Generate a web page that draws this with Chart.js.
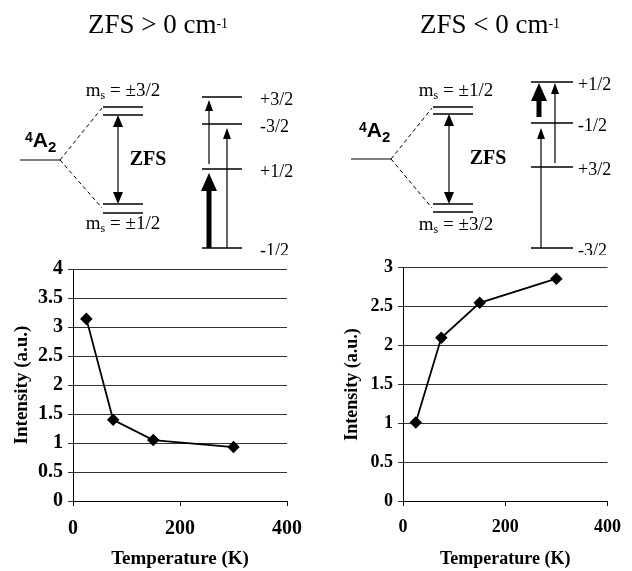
<!DOCTYPE html>
<html>
<head>
<meta charset="utf-8">
<script src="https://cdn.jsdelivr.net/npm/chart.js@4.4.0/dist/chart.umd.min.js"></script>
<style>
  body { margin: 0; background: #fff; }
  #fig { position: relative; width: 632px; height: 571px; }
  #fig canvas { position: absolute; }
</style>
</head>
<body>
<div id="fig">
  <canvas id="diagPos" width="316" height="255" style="left:0;top:0"></canvas>
  <canvas id="diagNeg" width="316" height="255" style="left:316px;top:0"></canvas>
  <canvas id="plotPos" width="316" height="319" style="left:0;top:252px"></canvas>
  <canvas id="plotNeg" width="316" height="319" style="left:316px;top:252px"></canvas>
</div>
<script>
// ---- intensity vs temperature ----
const temperatureK = [25, 75, 150, 300];
const intensityZfsPos = [3.14, 1.40, 1.05, 0.93];
const intensityZfsNeg = [1.01, 2.10, 2.55, 2.86];

// ---- level diagrams (energy in arbitrary units, 0 = bottom of panel) ----
const zfsPosTitle = 'ZFS > 0 cm';
const zfsPosSpins = ['+3/2', '-3/2', '+1/2', '-1/2'];
const zfsPosEnergy = [158, 131, 86, 7];
const zfsPosTransitions = [['+1/2', '+3/2'], ['-1/2', '+1/2'], ['-1/2', '-3/2']];
const zfsPosGround = 95;
const zfsPosUpperPair = [148, 140];
const zfsPosLowerPair = [51, 42];
const zfsPosMs = ['±3/2', '±1/2'];

const zfsNegTitle = 'ZFS < 0 cm';
const zfsNegSpins = ['+1/2', '-1/2', '+3/2', '-3/2'];
const zfsNegEnergy = [173, 132, 88, 7];
const zfsNegTransitions = [['-1/2', '+1/2'], ['+3/2', '+1/2'], ['-3/2', '-1/2']];
const zfsNegGround = 96;
const zfsNegUpperPair = [148, 141];
const zfsNegLowerPair = [51, 43];
const zfsNegMs = ['±1/2', '±3/2'];

const SERIF = "'Liberation Serif', 'Times New Roman', serif";
const SANS = "'Liberation Sans', Arial, sans-serif";

// where things sit inside each diagram panel
const posLayout = {
  titleX: 158, titleE: 222, groundX: [20, 60], splitX: [103, 143], dashUpE: 147, dashDownE: 47,
  zfsArrowX: 118, zfsTextX: 148, zfsTextE: 95, msX: 123, msE: [164, 31],
  colX: [202, 242], labelX: 260, termX: 25, termE: 108,
  arrowX: [209, 209, 227], thick: [false, true, false], startGap: [5, 0, 0], tipGap: [3, 4, 4]
};
const negLayout = {
  titleX: 174, titleE: 222, groundX: [35, 75], splitX: [117, 157], dashUpE: 147, dashDownE: 47,
  zfsArrowX: 133, zfsTextX: 172, zfsTextE: 96, msX: 140, msE: [164, 30],
  colX: [215, 257], labelX: 262, termX: 43, termE: 118,
  arrowX: [223, 239, 225], thick: [true, false, false], startGap: [6, 4, 0], tipGap: [1, 1, 5]
};

function drawParts(ctx, parts, x, y, align, baseline) {
  ctx.textBaseline = baseline || 'alphabetic';
  ctx.textAlign = 'left';
  let total = 0;
  const widths = parts.map(p => {
    ctx.font = p.font;
    const w = ctx.measureText(p.text).width;
    total += w;
    return w;
  });
  let cx = align === 'center' ? x - total / 2 : x;
  parts.forEach((p, i) => {
    ctx.font = p.font;
    ctx.fillText(p.text, cx, y + (p.dy || 0));
    cx += widths[i];
  });
}

function arrowHead(ctx, px, tip, dir, w, l) {
  ctx.beginPath();
  ctx.moveTo(px, tip);
  ctx.lineTo(px - w / 2, tip - dir * l);
  ctx.lineTo(px + w / 2, tip - dir * l);
  ctx.closePath();
  ctx.fill();
}

function drawArrow(ctx, px, y0, y1, shaftW, headW, headL, both) {
  const dir = Math.sign(y1 - y0);
  ctx.lineWidth = shaftW;
  ctx.beginPath();
  ctx.moveTo(px, both ? y0 + dir * headL * 0.8 : y0);
  ctx.lineTo(px, y1 - dir * headL * 0.8);
  ctx.stroke();
  arrowHead(ctx, px, y1, dir, headW, headL);
  if (both) arrowHead(ctx, px, y0, -dir, headW, headL);
}

function makeDiagram(id, d, L) {
  const seg = (x1, x2, y1, y2, w, dash) => ({
    data: [{ x: x1, y: y1 }, { x: x2, y: y2 }],
    showLine: true, borderColor: '#000', borderWidth: w, borderDash: dash || [],
    pointRadius: 0, fill: false
  });
  const datasets = [];
  datasets.push(seg(L.groundX[0], L.groundX[1], d.ground, d.ground, 1.2));
  d.upper.concat(d.lower).forEach(e => datasets.push(seg(L.splitX[0], L.splitX[1], e, e, 1.6)));
  datasets.push(seg(L.groundX[1], L.splitX[0] - 1, d.ground, L.dashUpE, 1, [4, 3]));
  datasets.push(seg(L.groundX[1], L.splitX[0] - 1, d.ground, L.dashDownE, 1, [4, 3]));
  d.energy.forEach(e => datasets.push(seg(L.colX[0], L.colX[1], e, e, 1.4)));

  const marks = {
    id: 'diagramMarks',
    afterDatasetsDraw(chart) {
      const { ctx, scales: { x, y } } = chart;
      const px = v => x.getPixelForValue(v);
      const py = v => y.getPixelForValue(v);
      const eOf = s => d.energy[d.spins.indexOf(s)];
      ctx.save();
      ctx.fillStyle = '#000';
      ctx.strokeStyle = '#000';

      // ZFS double arrow between the split levels
      drawArrow(ctx, px(L.zfsArrowX), py(d.upper[1]), py(d.lower[0]), 1.2, 10, 12, true);

      // transitions
      d.transitions.forEach((t, i) => {
        const e0 = eOf(t[0]), e1 = eOf(t[1]);
        const up = e1 > e0 ? 1 : -1;
        const y0 = py(e0 + up * L.startGap[i]);
        const y1 = py(e1 - up * L.tipGap[i]);
        if (L.thick[i]) drawArrow(ctx, px(L.arrowX[i]), y0, y1, 5, 16, 18, false);
        else drawArrow(ctx, px(L.arrowX[i]), y0, y1, 1.2, 8, 11, false);
      });

      // texts
      drawParts(ctx, [
        { text: d.title, font: '27px ' + SERIF },
        { text: '-1', font: '14px ' + SERIF, dy: -5 }
      ], px(L.titleX), py(L.titleE), 'center');

      drawParts(ctx, [
        { text: '4', font: 'bold 14px ' + SANS, dy: -5 },
        { text: 'A', font: 'bold 21px ' + SANS },
        { text: '2', font: 'bold 15px ' + SANS, dy: 5 }
      ], px(L.termX), py(L.termE), 'left');

      ctx.font = 'bold 20px ' + SERIF;
      ctx.textAlign = 'center';
      ctx.textBaseline = 'middle';
      ctx.fillText('ZFS', px(L.zfsTextX), py(L.zfsTextE));

      d.ms.forEach((m, i) => {
        drawParts(ctx, [
          { text: 'm', font: '19px ' + SERIF },
          { text: 's', font: '12px ' + SERIF, dy: 5 },
          { text: ' = ' + m, font: '19px ' + SERIF }
        ], px(L.msX), py(L.msE[i]), 'center', 'middle');
      });

      ctx.font = '18px ' + SERIF;
      ctx.textAlign = 'left';
      ctx.textBaseline = 'middle';
      d.spins.forEach((s, i) => ctx.fillText(s, px(L.labelX), py(d.energy[i] - 3)));
      ctx.restore();
    }
  };

  return new Chart(document.getElementById(id), {
    type: 'scatter',
    data: { datasets: datasets },
    options: {
      responsive: false,
      animation: false,
      layout: { padding: 0 },
      plugins: { legend: { display: false }, tooltip: { enabled: false } },
      scales: {
        x: { type: 'linear', min: 0, max: 316, display: false },
        y: { type: 'linear', min: 0, max: 255, display: false }
      }
    },
    plugins: [marks]
  });
}

function makePlot(id, values, yMax, f) {
  return new Chart(document.getElementById(id), {
    type: 'scatter',
    data: {
      datasets: [{
        data: temperatureK.map((t, i) => ({ x: t, y: values[i] })),
        showLine: true,
        borderColor: '#000',
        borderWidth: 1.8,
        pointStyle: 'rectRot',
        pointRadius: 5,
        pointBackgroundColor: '#000',
        pointBorderColor: '#000'
      }]
    },
    options: {
      responsive: false,
      animation: false,
      layout: { padding: { top: f.padTop, right: f.padRight, left: 0, bottom: 0 } },
      plugins: { legend: { display: false }, tooltip: { enabled: false } },
      scales: {
        x: {
          type: 'linear', min: 0, max: 400,
          ticks: { stepSize: 200, color: '#000', padding: 11, maxRotation: 0,
                   font: { family: SERIF, weight: 'bold', size: f.xTick } },
          grid: { drawOnChartArea: false, drawTicks: true, tickLength: 5, color: '#000' },
          border: { display: true, color: '#000', width: 1 },
          title: { display: true, text: 'Temperature (K)', color: '#000',
                   font: { family: SERIF, weight: 'bold', size: f.title }, padding: { top: 0, bottom: 1 } },
          afterFit: s => { s.height = 70; }
        },
        y: {
          type: 'linear', min: 0, max: yMax,
          ticks: { stepSize: 0.5, color: '#000', padding: 5,
                   callback: v => String(Number(v)),
                   font: { family: SERIF, weight: 'bold', size: f.yTick } },
          grid: { color: '#333', lineWidth: 1, tickLength: 5 },
          border: { display: true, color: '#000', width: 1 },
          title: { display: true, text: 'Intensity (a.u.)', color: '#000',
                   font: { family: SERIF, weight: 'bold', size: f.title }, padding: { top: f.yTitlePad, bottom: 0 } },
          afterFit: s => { s.width = f.yWidth; }
        }
      }
    }
  });
}

makeDiagram('diagPos', {
  title: zfsPosTitle, spins: zfsPosSpins, energy: zfsPosEnergy, transitions: zfsPosTransitions,
  ground: zfsPosGround, upper: zfsPosUpperPair, lower: zfsPosLowerPair, ms: zfsPosMs
}, posLayout);
makeDiagram('diagNeg', {
  title: zfsNegTitle, spins: zfsNegSpins, energy: zfsNegEnergy, transitions: zfsNegTransitions,
  ground: zfsNegGround, upper: zfsNegUpperPair, lower: zfsNegLowerPair, ms: zfsNegMs
}, negLayout);

makePlot('plotPos', intensityZfsPos, 4, { padTop: 13, padRight: 29, yWidth: 73, yTick: 20, xTick: 20, title: 19, yTitlePad: 11 });
makePlot('plotNeg', intensityZfsNeg, 3, { padTop: 12, padRight: 15, yWidth: 87, yTick: 18, xTick: 18, title: 18, yTitlePad: 26 });
</script>
</body>
</html>
